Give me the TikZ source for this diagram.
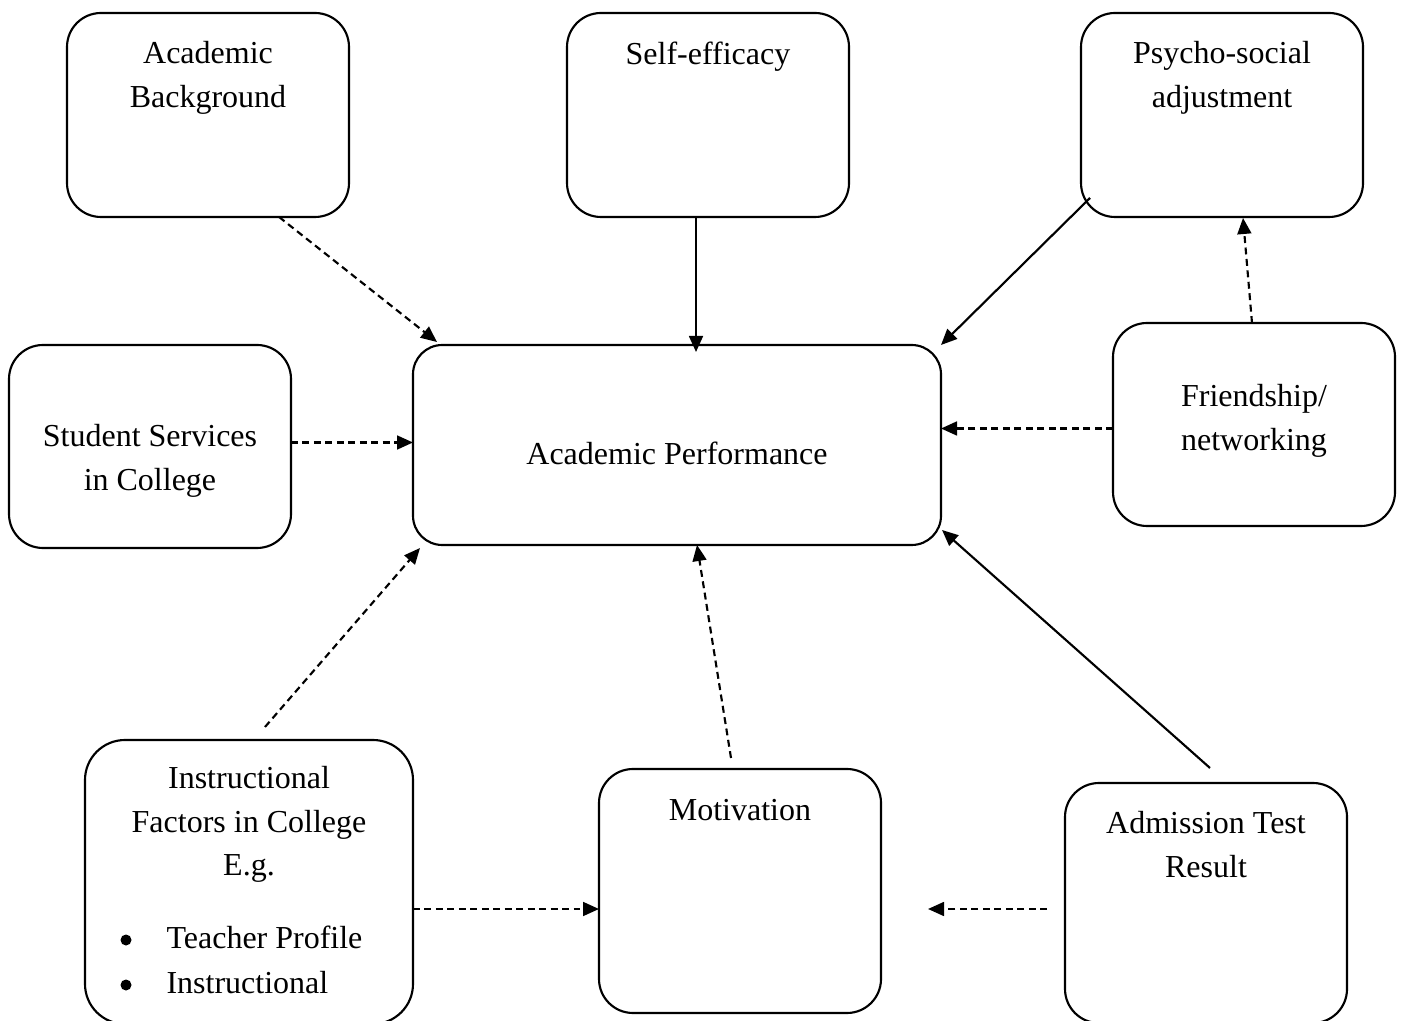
\documentclass[tikz,border=0pt]{standalone}
\usepackage{fontspec}
\setmainfont{Liberation Serif}
\usetikzlibrary{arrows.meta,calc}
\newdimen\pxu \pxu=0.375pt
\begin{document}
\begin{tikzpicture}[x=0.375pt,y=-0.375pt,
  box/.style={draw,line width=0.8pt,rounded corners=12.75pt,inner sep=0pt,outer sep=0pt},
  txt/.style={inner sep=0pt,font=\fontsize{12pt}{16.3pt}\selectfont},
  lbl/.style={txt,anchor=north,align=center},
  bul/.style={circle,fill,inner sep=0pt,minimum size=11\pxu},
  conn/.style={line width=0.8pt,-{Triangle[length=6pt,width=5.2pt]}},
  dsh/.style={conn,dash pattern=on 2.6pt off 1.7pt}]
\useasboundingbox (0,0) rectangle (1401,1021);
\clip (0,0) rectangle (1401,1021);
\fill[white] (0,0) rectangle (1401,1021);

% boxes
\node[box,minimum width=282\pxu,minimum height=204\pxu] (ab) at (208,115) {};
\node[box,minimum width=282\pxu,minimum height=204\pxu] (se) at (708,115) {};
\node[box,minimum width=282\pxu,minimum height=204\pxu] (ps) at (1222,115) {};
\node[box,minimum width=282\pxu,minimum height=203\pxu] (ss) at (150,446.5) {};
\node[box,rounded corners=11pt,minimum width=528\pxu,minimum height=200\pxu] (ap) at (677,445) {};
\node[box,rounded corners=12.75pt,minimum width=282\pxu,minimum height=203\pxu] (fr) at (1254,424.5) {};
\node[box,rounded corners=15pt,minimum width=328\pxu,minimum height=284\pxu] (inf) at (249,882) {};
\node[box,minimum width=282\pxu,minimum height=244\pxu] (mo) at (740,891) {};
\node[box,minimum width=282\pxu,minimum height=240\pxu] (ad) at (1206,903) {};

% labels
\node[lbl] (abt) at ($(ab.north)+(0,28)$) {Academic\\Background};
\node[lbl] (set) at ($(se.north)+(0,28)$) {Self-efficacy};
\node[lbl] (pst) at ($(ps.north)+(0,28)$) {Psycho-social\\adjustment};
\node[lbl] (sst) at ($(ss.north)+(0,79)$) {Student Services\\in College};
\node[lbl] (apt) at ($(ap.north)+(0,96)$) {Academic Performance};
\node[lbl] (frt) at ($(fr.north)+(0,61)$) {Friendship/\\networking};
\node[lbl] (inft) at ($(inf.north)+(0,26)$) {Instructional\\Factors in College\\E.g.};
\node[lbl] (mot) at ($(mo.north)+(0,30)$) {Motivation};
\node[lbl] (adt) at ($(ad.north)+(0,28)$) {Admission Test\\Result};
\node[bul] (b1) at (126,940) {};
\node[txt,anchor=base west] (i1) at (166,948) {Teacher Profile};
\node[bul] (b2) at (126,985) {};
\node[txt,anchor=base west] (i2) at (166,993) {Instructional};

% helper points
\path ($(fr.west)+(0,4)$) coordinate (frw);
\path ($(ss.east)+(0,-4)$) coordinate (sse);
\path ($(inf.east)+(0,27)$) coordinate (infe);

% connectors
\draw[dsh] ($(ab.south west)!0.752!(ab.south east)$) -- ($(ap.north west)+(24,-3)$);
\draw[conn] ($(se.south)+(-12,0)$) -- ($(ap.north)+(19,7)$);
\draw[conn] ($(ps.south west)+(9,-19)$) -- (ap.north east);
\draw[dsh] ($(fr.north)+(-2,0)$) -- ($(ps.south)+(21,1)$);
\draw[dsh] (frw) -- (frw -| ap.east);
\draw[dsh] (sse) -- (sse -| ap.west);
\draw[dsh] ($(inf.north)+(16,-13)$) -- ($(ap.south west)+(7,3)$);
\draw[dsh] ($(mo.north)+(-9,-11)$) -- ($(ap.south)+(20,0)$);
\draw[conn] ($(ad.north)+(4,-15)$) -- ($(ap.south east)+(1,-15)$);
\draw[dsh] (infe) -- (infe -| mo.west);
\draw[dsh] ($(ad.west)+(-18,6)$) -- ($(mo.east)+(47,18)$);
\end{tikzpicture}
\end{document}
